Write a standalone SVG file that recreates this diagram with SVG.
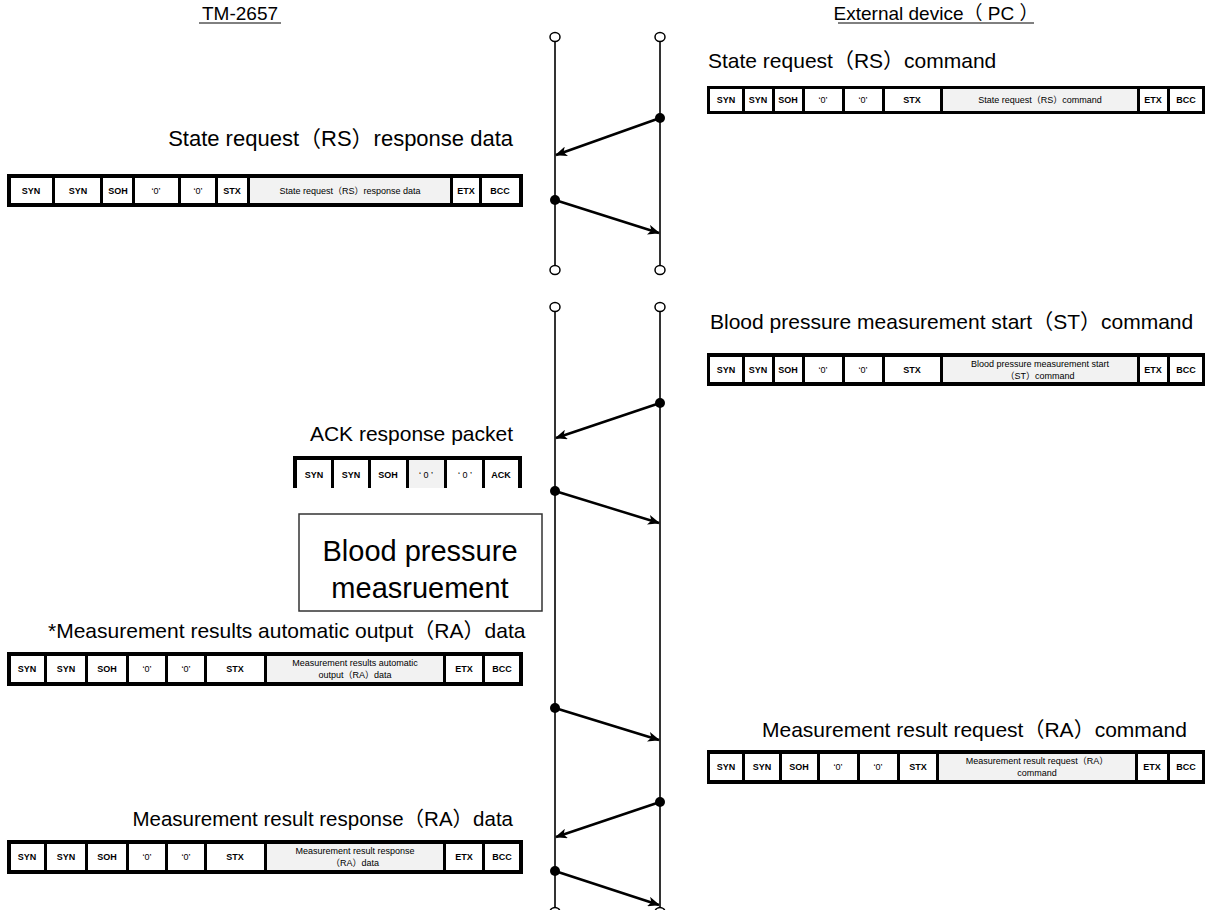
<svg xmlns="http://www.w3.org/2000/svg" width="1213" height="910" viewBox="0 0 1213 910">
<style>
.h{font-family:"Liberation Sans","Noto Sans CJK JP",sans-serif;font-size:21px;fill:#000}
.hd{font-family:"Liberation Sans","Noto Sans CJK JP",sans-serif;font-size:19px;fill:#000}
.c{font-family:"Liberation Sans",Arial,sans-serif;font-size:9px;font-weight:bold;text-anchor:middle;fill:#000}
.z{font-family:"Liberation Sans",Arial,sans-serif;font-size:9px;text-anchor:middle;fill:#000}
.d{font-family:"Liberation Sans","Noto Sans CJK JP",sans-serif;font-size:9px;text-anchor:middle;fill:#000}
.w{fill:#fff}
.g{fill:#f2f2f2}
.life{stroke:#333;stroke-width:2;fill:none}
.end{fill:#fff;stroke:#000;stroke-width:1.5}
.dot{fill:#000}
.arr{stroke:#000;stroke-width:2.5;fill:none;marker-end:url(#ah)}
.bx{font-family:"Liberation Sans",sans-serif;font-size:29px;text-anchor:middle;fill:#000}
</style>
<defs>
<marker id="ah" markerWidth="12" markerHeight="10" refX="11" refY="5" orient="auto" markerUnits="userSpaceOnUse">
<path d="M0,0 L12,5 L0,10 L3,5 Z" fill="#000"/>
</marker>
</defs>

<g id="headers">
<text class="hd" x="240" y="20" text-anchor="middle">TM-2657</text>
<line x1="199" y1="23" x2="281" y2="23" stroke="#000" stroke-width="1"/>
<text class="hd" x="936" y="20" text-anchor="middle">External device（ PC ）</text>
<line x1="838" y1="23" x2="1034" y2="23" stroke="#000" stroke-width="1"/>
</g>

<g id="lifelines">
<line class="life" x1="555" y1="42" x2="555" y2="265"/>
<line class="life" x1="660" y1="42" x2="660" y2="265"/>
<line class="life" x1="555" y1="312" x2="555" y2="910"/>
<line class="life" x1="660" y1="312" x2="660" y2="910"/>
<ellipse class="end" cx="555" cy="37" rx="5" ry="4.5"/>
<ellipse class="end" cx="660" cy="37" rx="5" ry="4.5"/>
<ellipse class="end" cx="555" cy="270" rx="5" ry="4.5"/>
<ellipse class="end" cx="660" cy="270" rx="5" ry="4.5"/>
<ellipse class="end" cx="555" cy="307" rx="5" ry="4.5"/>
<ellipse class="end" cx="660" cy="307" rx="5" ry="4.5"/>
<ellipse class="end" cx="555" cy="912" rx="5" ry="4.5"/>
<ellipse class="end" cx="660" cy="912" rx="5" ry="4.5"/>
</g>

<g id="connectors">
<circle class="dot" cx="660" cy="118" r="5"/>
<line class="arr" x1="660" y1="118" x2="556" y2="155"/>
<circle class="dot" cx="555" cy="200" r="5"/>
<line class="arr" x1="555" y1="200" x2="659" y2="233"/>
<circle class="dot" cx="660" cy="403" r="5"/>
<line class="arr" x1="660" y1="403" x2="556" y2="438"/>
<circle class="dot" cx="555" cy="491" r="5"/>
<line class="arr" x1="555" y1="491" x2="659" y2="523"/>
<circle class="dot" cx="555" cy="708" r="5"/>
<line class="arr" x1="555" y1="708" x2="659" y2="740"/>
<circle class="dot" cx="660" cy="802" r="5"/>
<line class="arr" x1="660" y1="802" x2="556" y2="837"/>
<circle class="dot" cx="555" cy="871" r="5"/>
<line class="arr" x1="555" y1="871" x2="659" y2="905"/>
</g>

<g id="rs-command">
<text class="h" x="708" y="68">State request（RS）command</text>
<rect x="707" y="86" width="498" height="28" fill="#000"/>
<rect class="w" x="710" y="89" width="32" height="22"/><text class="c" x="726" y="103">SYN</text>
<rect class="w" x="745" y="89" width="27" height="22"/><text class="c" x="758" y="103">SYN</text>
<rect class="w" x="775" y="89" width="27" height="22"/><text class="c" x="788" y="103">SOH</text>
<rect class="w" x="805" y="89" width="37" height="22"/><text class="z" x="823" y="103">‘0’</text>
<rect class="w" x="845" y="89" width="37" height="22"/><text class="z" x="863" y="103">‘0’</text>
<rect class="w" x="885" y="89" width="55" height="22"/><text class="c" x="912" y="103">STX</text>
<rect class="g" x="943" y="89" width="194" height="22"/><text class="d" x="1040" y="103">State request（RS）command</text>
<rect class="w" x="1140" y="89" width="27" height="22"/><text class="c" x="1153" y="103">ETX</text>
<rect class="w" x="1170" y="89" width="32" height="22"/><text class="c" x="1186" y="103">BCC</text>
</g>

<g id="rs-response">
<text class="h" x="513" y="146" text-anchor="end" style="font-size:22px">State request（RS）response data</text>
<rect x="7" y="174" width="516" height="33" fill="#000"/>
<rect class="w" x="11" y="178" width="41" height="25"/><text class="c" x="31" y="194">SYN</text>
<rect class="w" x="55" y="178" width="45" height="25"/><text class="c" x="78" y="194">SYN</text>
<rect class="w" x="103" y="178" width="29" height="25"/><text class="c" x="118" y="194">SOH</text>
<rect class="w" x="135" y="178" width="43" height="25"/><text class="z" x="156" y="194">‘0’</text>
<rect class="w" x="181" y="178" width="34" height="25"/><text class="z" x="198" y="194">‘0’</text>
<rect class="w" x="218" y="178" width="29" height="25"/><text class="c" x="232" y="194">STX</text>
<rect class="g" x="250" y="178" width="200" height="25"/><text class="d" x="350" y="194">State request（RS）response data</text>
<rect class="w" x="453" y="178" width="26" height="25"/><text class="c" x="466" y="194">ETX</text>
<rect class="w" x="482" y="178" width="37" height="25"/><text class="c" x="500" y="194">BCC</text>
</g>

<g id="st-command">
<text class="h" x="710" y="329">Blood pressure measurement start（ST）command</text>
<rect x="707" y="353" width="498" height="33" fill="#000"/>
<rect class="w" x="710" y="357" width="32" height="25"/><text class="c" x="726" y="373">SYN</text>
<rect class="w" x="745" y="357" width="27" height="25"/><text class="c" x="758" y="373">SYN</text>
<rect class="w" x="775" y="357" width="27" height="25"/><text class="c" x="788" y="373">SOH</text>
<rect class="w" x="805" y="357" width="37" height="25"/><text class="z" x="823" y="373">‘0’</text>
<rect class="w" x="845" y="357" width="37" height="25"/><text class="z" x="863" y="373">‘0’</text>
<rect class="w" x="885" y="357" width="55" height="25"/><text class="c" x="912" y="373">STX</text>
<rect class="g" x="943" y="357" width="194" height="25"/><text class="d" x="1040" y="367">Blood pressure measurement start</text><text class="d" x="1040" y="379">（ST）command</text>
<rect class="w" x="1140" y="357" width="27" height="25"/><text class="c" x="1153" y="373">ETX</text>
<rect class="w" x="1170" y="357" width="32" height="25"/><text class="c" x="1186" y="373">BCC</text>
</g>

<g id="ack-response">
<text class="h" x="513" y="441" text-anchor="end">ACK response packet</text>
<rect x="293" y="456" width="229" height="32" fill="#000"/>
<rect class="w" x="297" y="460" width="34" height="28"/><text class="c" x="314" y="478">SYN</text>
<rect class="w" x="334" y="460" width="34" height="28"/><text class="c" x="351" y="478">SYN</text>
<rect class="w" x="371" y="460" width="35" height="28"/><text class="c" x="388" y="478">SOH</text>
<rect class="g" x="409" y="460" width="35" height="28"/><text class="z" x="426" y="478">‘ 0 ’</text>
<rect class="w" x="447" y="460" width="35" height="28"/><text class="z" x="465" y="478">‘ 0 ’</text>
<rect class="w" x="485" y="460" width="33" height="28"/><text class="c" x="501" y="478">ACK</text>
</g>

<g id="bp-measurement">
<rect x="299" y="514" width="243" height="97" fill="#fff" stroke="#333" stroke-width="1.5"/>
<text class="bx" x="420" y="561">Blood pressure</text>
<text class="bx" x="420" y="598">measruement</text>
</g>

<g id="ra-auto">
<text class="h" x="48" y="638">*Measurement results automatic output（RA）data</text>
<rect x="7" y="652" width="516" height="34" fill="#000"/>
<rect class="w" x="11" y="656" width="33" height="26"/><text class="c" x="27" y="672">SYN</text>
<rect class="w" x="47" y="656" width="38" height="26"/><text class="c" x="66" y="672">SYN</text>
<rect class="w" x="88" y="656" width="38" height="26"/><text class="c" x="107" y="672">SOH</text>
<rect class="w" x="129" y="656" width="36" height="26"/><text class="z" x="147" y="672">‘0’</text>
<rect class="w" x="168" y="656" width="36" height="26"/><text class="z" x="186" y="672">‘0’</text>
<rect class="w" x="207" y="656" width="57" height="26"/><text class="c" x="235" y="672">STX</text>
<rect class="g" x="267" y="656" width="176" height="26"/><text class="d" x="355" y="666">Measurement results automatic</text><text class="d" x="355" y="678">output（RA）data</text>
<rect class="w" x="446" y="656" width="36" height="26"/><text class="c" x="464" y="672">ETX</text>
<rect class="w" x="485" y="656" width="34" height="26"/><text class="c" x="502" y="672">BCC</text>
</g>

<g id="ra-request">
<text class="h" x="762" y="737">Measurement result request（RA）command</text>
<rect x="707" y="750" width="498" height="34" fill="#000"/>
<rect class="w" x="710" y="754" width="32" height="26"/><text class="c" x="726" y="770">SYN</text>
<rect class="w" x="745" y="754" width="34" height="26"/><text class="c" x="762" y="770">SYN</text>
<rect class="w" x="782" y="754" width="35" height="26"/><text class="c" x="799" y="770">SOH</text>
<rect class="w" x="820" y="754" width="37" height="26"/><text class="z" x="838" y="770">‘0’</text>
<rect class="w" x="860" y="754" width="37" height="26"/><text class="z" x="878" y="770">‘0’</text>
<rect class="w" x="900" y="754" width="36" height="26"/><text class="c" x="918" y="770">STX</text>
<rect class="g" x="939" y="754" width="196" height="26"/><text class="d" x="1037" y="764">Measurement result request（RA）</text><text class="d" x="1037" y="776">command</text>
<rect class="w" x="1138" y="754" width="29" height="26"/><text class="c" x="1152" y="770">ETX</text>
<rect class="w" x="1170" y="754" width="32" height="26"/><text class="c" x="1186" y="770">BCC</text>
</g>

<g id="ra-response">
<text class="h" x="513" y="826" text-anchor="end" style="font-size:20.5px">Measurement result response（RA）data</text>
<rect x="7" y="840" width="516" height="34" fill="#000"/>
<rect class="w" x="11" y="844" width="33" height="26"/><text class="c" x="27" y="860">SYN</text>
<rect class="w" x="47" y="844" width="38" height="26"/><text class="c" x="66" y="860">SYN</text>
<rect class="w" x="88" y="844" width="38" height="26"/><text class="c" x="107" y="860">SOH</text>
<rect class="w" x="129" y="844" width="36" height="26"/><text class="z" x="147" y="860">‘0’</text>
<rect class="w" x="168" y="844" width="36" height="26"/><text class="z" x="186" y="860">‘0’</text>
<rect class="w" x="207" y="844" width="57" height="26"/><text class="c" x="235" y="860">STX</text>
<rect class="g" x="267" y="844" width="176" height="26"/><text class="d" x="355" y="854">Measurement result response</text><text class="d" x="355" y="866">（RA）data</text>
<rect class="w" x="446" y="844" width="36" height="26"/><text class="c" x="464" y="860">ETX</text>
<rect class="w" x="485" y="844" width="34" height="26"/><text class="c" x="502" y="860">BCC</text>
</g>
</svg>
